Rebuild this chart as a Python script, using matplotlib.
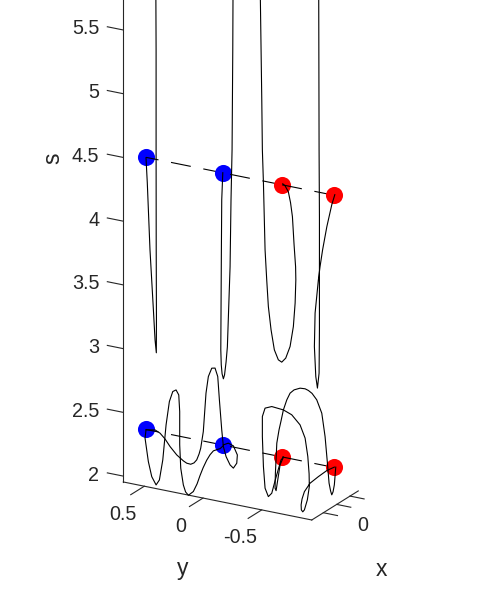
import matplotlib
matplotlib.use('Agg')
import matplotlib.pyplot as plt
from mpl_toolkits.mplot3d import proj3d
import numpy as np

X_LIM = (-0.936, 0.81)
Y_LIM = (-0.926, 0.679)
S_LIM = (1.954, 6.0)

S_TICKS = [2, 2.5, 3, 3.5, 4, 4.5, 5, 5.5]
S_LABELS = ['2', '2.5', '3', '3.5', '4', '4.5', '5', '5.5']
Y_TICKS = [0.5, 0, -0.5]
Y_LABELS = ['0.5', '0', '-0.5']
X_TICKS = [-0.5, 0, 0.5]

# the four points on each of the two levels
DOT_Y = [0.698, 0.042, -0.461, -0.904]
DOT_COLORS = ['#0000FF', '#0000FF', '#FF0000', '#FF0000']
LEVELS = [4.375, 2.24]
CURVE_X = 0

c1_y = [0.698, 0.687, 0.664, 0.635, 0.621, 0.610, 0.609, 0.611, 0.612, 0.612, 0.614]
c1_s = [4.372, 4.178, 3.656, 3.190, 2.958, 2.858, 3.117, 3.666, 4.451, 5.235, 5.667]
c2_y = [0.044, 0.053, 0.056, 0.061, 0.057, 0.050, 0.039, 0.029, 0.016, 0.005, -0.018, -0.026, -0.035, -0.041, -0.043]
c2_s = [4.376, 4.162, 3.769, 2.983, 2.866, 2.797, 2.760, 2.793, 2.897, 3.017, 3.649, 4.177, 4.571, 5.357, 5.789]
c3_y = [-0.467, -0.486, -0.514, -0.533, -0.549, -0.563, -0.576, -0.578, -0.572, -0.557, -0.529, -0.492, -0.458, -0.429, -0.395, -0.367, -0.344, -0.330, -0.316, -0.302, -0.293, -0.288, -0.276, -0.275]
c3_s = [4.384, 4.372, 4.331, 4.248, 4.141, 3.924, 3.753, 3.651, 3.468, 3.281, 3.119, 3.021, 2.983, 2.996, 3.068, 3.220, 3.399, 3.606, 3.838, 4.362, 4.619, 5.010, 5.793, 5.832]
c4_y = [-0.910, -0.884, -0.842, -0.806, -0.784, -0.770, -0.742, -0.736, -0.748, -0.762, -0.776, -0.779, -0.779, -0.779, -0.776, -0.773, -0.773]
c4_s = [4.381, 4.297, 4.117, 3.929, 3.792, 3.687, 3.421, 3.157, 2.924, 2.836, 2.956, 3.296, 3.689, 4.183, 4.709, 5.886, 5.925]

a_y = [0.698, 0.621, 0.578, 0.536, 0.493, 0.436, 0.380, 0.351, 0.317, 0.289, 0.266, 0.246, 0.232, 0.210, 0.187, 0.167, 0.138, 0.110, 0.087, 0.073, 0.053, 0.039, 0.016, -0.018, -0.046, -0.075, -0.080, -0.046, -0.003, 0.039]
a_s = [2.237, 2.251, 2.233, 2.196, 2.144, 2.089, 2.053, 2.040, 2.038, 2.054, 2.082, 2.132, 2.180, 2.314, 2.620, 2.754, 2.825, 2.831, 2.769, 2.589, 2.357, 2.228, 2.154, 2.095, 2.075, 2.119, 2.185, 2.250, 2.263, 2.242]
b_y = [0.698, 0.706, 0.678, 0.649, 0.612, 0.584, 0.555, 0.527, 0.499, 0.470, 0.442, 0.419, 0.411, 0.411, 0.402, 0.380, 0.361, 0.337, 0.295, 0.263, 0.238, 0.212, 0.181, 0.152, 0.124, 0.093, 0.067, 0.039]
b_s = [2.237, 2.170, 1.992, 1.879, 1.821, 1.865, 2.028, 2.308, 2.496, 2.580, 2.598, 2.563, 2.434, 2.173, 1.991, 1.864, 1.813, 1.791, 1.828, 1.894, 1.964, 2.029, 2.095, 2.144, 2.179, 2.195, 2.207, 2.236]
d_y = [-0.472, -0.452, -0.407, -0.373, -0.344, -0.316, -0.302, -0.293, -0.293, -0.316, -0.373, -0.472, -0.543, -0.614, -0.657, -0.680, -0.691, -0.693, -0.676, -0.651, -0.637, -0.625, -0.623, -0.631, -0.651, -0.699, -0.770, -0.842, -0.906]
d_s = [2.240, 2.215, 2.063, 1.939, 1.907, 1.968, 2.135, 2.369, 2.526, 2.596, 2.619, 2.611, 2.586, 2.520, 2.424, 2.284, 2.150, 2.051, 1.943, 1.860, 1.842, 1.855, 1.894, 1.942, 2.003, 2.078, 2.143, 2.204, 2.243]
e_y = [-0.472, -0.444, -0.424, -0.410, -0.401, -0.404, -0.416, -0.435, -0.452, -0.472, -0.501, -0.529, -0.563, -0.614, -0.657, -0.685, -0.716, -0.756, -0.799, -0.827, -0.847, -0.861, -0.874, -0.884, -0.895, -0.906, -0.918]
e_s = [2.240, 2.175, 2.053, 1.966, 1.984, 2.102, 2.340, 2.448, 2.521, 2.611, 2.695, 2.753, 2.785, 2.808, 2.811, 2.803, 2.786, 2.743, 2.646, 2.468, 2.263, 2.109, 2.050, 2.021, 2.047, 2.104, 2.245]

AXIS_COLOR = '#262626'
LINE_W = 0.8
DASH = (0, (14.5, 9.2))
TICK_FONT = 14.2
LABEL_FONT = 16.5

plt.rcParams['font.family'] = ['Liberation Sans', 'DejaVu Sans']
plt.rcParams['lines.scale_dashes'] = False

fig = plt.figure(figsize=(4.86, 5.98), dpi=100)
ax = fig.add_axes([-1.0451, -0.9152, 3.0, 3.0], projection='3d', proj_type='ortho')
ax.computed_zorder = False
ax.view_init(elev=20.8, azim=209.6)
ax.set_xlim(*X_LIM, view_margin=0)
ax.set_ylim(*Y_LIM, view_margin=0)
ax.set_zlim(*S_LIM, view_margin=0)
ax.set_box_aspect(((X_LIM[1] - X_LIM[0]) * 53.9,
                   (Y_LIM[1] - Y_LIM[0]) * 135,
                   (S_LIM[1] - S_LIM[0]) * 136.3), zoom=0.3996)
ax.set_axis_off()


def edge(xs, ys, ss):
    ax.plot(xs, ys, ss, color=AXIS_COLOR, lw=LINE_W, zorder=1)


def tick_text(x, y, s, label, ha='center'):
    px, py, _ = proj3d.proj_transform(x, y, s, ax.get_proj())
    ax.text2D(px, py, label, transform=ax.transData, ha=ha, va='center',
              fontsize=TICK_FONT, color=AXIS_COLOR)


# box edges
edge([X_LIM[0], X_LIM[0]], [Y_LIM[1], Y_LIM[1]], S_LIM)
edge([X_LIM[0], X_LIM[0]], Y_LIM, [S_LIM[0], S_LIM[0]])
edge(X_LIM, [Y_LIM[0], Y_LIM[0]], [S_LIM[0], S_LIM[0]])

# ticks
for tick, label in zip(S_TICKS, S_LABELS):
    edge([X_LIM[0], X_LIM[0]], [Y_LIM[1], Y_LIM[1] + 0.136], [tick, tick])
    tick_text(X_LIM[0], Y_LIM[1] + 0.205, tick - 0.03, label, ha='right')
for tick, label in zip(Y_TICKS, Y_LABELS):
    edge([X_LIM[0], X_LIM[0] - 0.51], [tick, tick], [S_LIM[0], S_LIM[0]])
    tick_text(X_LIM[0] - 0.82, tick, S_LIM[0] - 0.113, label)
for tick in X_TICKS:
    edge([tick, tick], [Y_LIM[0], Y_LIM[0] - 0.12], [S_LIM[0], S_LIM[0]])
tick_text(0, Y_LIM[0] - 0.224, S_LIM[0] - 0.123, '0')

fig.text(183 / 486, 1 - 568 / 598, 'y', ha='center', va='center', fontsize=LABEL_FONT, color=AXIS_COLOR)
fig.text(381 / 486, 1 - 570 / 598, 'x', ha='center', va='center', fontsize=LABEL_FONT, color=AXIS_COLOR)
fig.text(53 / 486, 1 - 158 / 598, 's', ha='center', va='center', rotation=90, fontsize=LABEL_FONT,
         color=AXIS_COLOR)

# dots and dashes go in one after the other, so each dot hides the dash before it
z = 2
for level in LEVELS:
    for i in range(4):
        ax.plot([CURVE_X], [DOT_Y[i]], [level], marker='o', ms=12.3, mfc=DOT_COLORS[i], mec='none',
                ls='none', zorder=z)
        z += 1
        if i < 3:
            # dash pattern starts at the right hand dot of the first two pieces
            pair = [DOT_Y[i + 1], DOT_Y[i]] if i < 2 else [DOT_Y[i], DOT_Y[i + 1]]
            ax.plot([CURVE_X, CURVE_X], pair, [level, level], color='black', lw=LINE_W,
                    ls=DASH, zorder=z)
            z += 1

for ys, ss in [(c1_y, c1_s), (c2_y, c2_s), (c3_y, c3_s), (c4_y, c4_s),
               (a_y, a_s), (b_y, b_s), (d_y, d_s), (e_y, e_s)]:
    ax.plot(np.full(len(ys), CURVE_X), ys, ss, color='black', lw=LINE_W, zorder=50)

fig.savefig('out.png', dpi=100)
